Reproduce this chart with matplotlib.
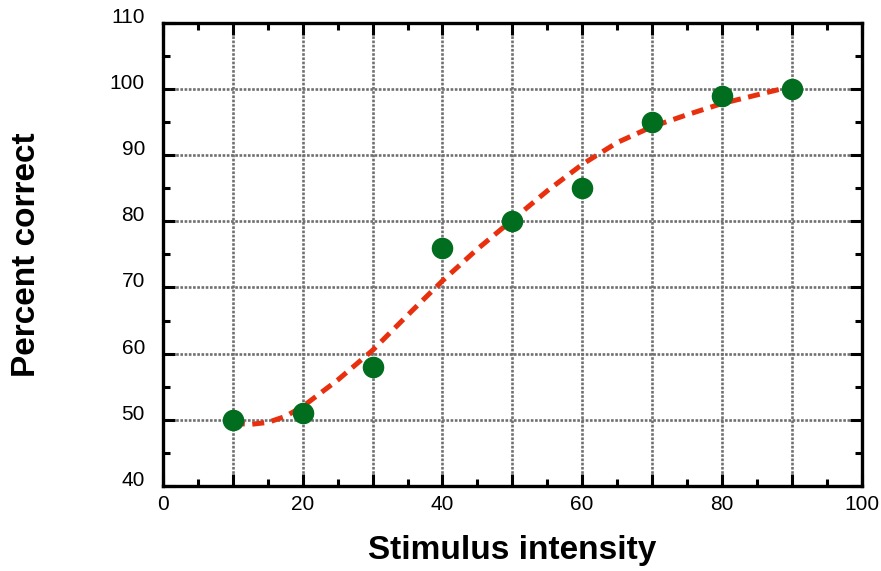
import numpy as np
import matplotlib.pyplot as plt
from matplotlib.ticker import MultipleLocator

# measured data points
stim = [10, 20, 30, 40, 50, 60, 70, 80, 90]
pct = [50, 51, 58, 76, 80, 85, 95, 99, 100]

# fitted curve
fit_x = [10, 12.5, 15, 17.5, 20, 25, 30, 35, 40, 45, 50, 55, 60, 65, 70, 75, 80, 85, 90]
fit_y = [49.5, 49.3, 49.6, 50.5, 52.0, 56.0, 60.5, 65.8, 71.0, 75.8, 80.2, 84.6,
         88.6, 91.9, 94.3, 96.1, 97.8, 99.1, 100.4]

x_ticks = [0, 10, 20, 30, 40, 50, 60, 70, 80, 90, 100]
x_labels = ['0', '', '20', '', '40', '', '60', '', '80', '', '100']
y_ticks = [40, 50, 60, 70, 80, 90, 100, 110]
y_labels = ['40', '50', '60', '70', '80', '90', '100', '110']

plt.rcParams['font.family'] = ['Liberation Sans', 'DejaVu Sans']

fig = plt.figure(figsize=(8.81, 5.71), dpi=100)
ax = fig.add_axes([0.185, 0.149, 0.793, 0.811])

ax.plot(fit_x, fit_y, color='#e8300e', linewidth=3.6, linestyle=(0, (2.4, 1.5)),
        dash_capstyle='butt', zorder=3)
ax.plot(stim, pct, 'o', color='#006e1e', markersize=14.5, zorder=4)

ax.set_xlim(0, 100)
ax.set_ylim(40, 110)
ax.set_xticks(x_ticks, x_labels)
ax.set_yticks(y_ticks, y_labels)
ax.xaxis.set_minor_locator(MultipleLocator(5))
ax.yaxis.set_minor_locator(MultipleLocator(5))

# grid lines every 10
ax.grid(True, which='major', color='#707070', linestyle=(0, (1, 0.6)), linewidth=1.9)
ax.set_axisbelow(True)

ax.tick_params(which='both', direction='in', top=True, right=True, width=2.2)
ax.tick_params(which='major', length=8.5, labelsize=15)
ax.tick_params(which='minor', length=5)
ax.tick_params(axis='y', pad=13)
ax.tick_params(axis='x', pad=6.5)
for lbl in ax.get_yticklabels():
    lbl.set_verticalalignment('baseline')

for s in ax.spines.values():
    s.set_linewidth(2.4)

ax.set_xlabel('Stimulus intensity', fontsize=24, fontweight='bold', va='center')
ax.set_ylabel('Percent correct', fontsize=24, fontweight='bold', va='center')
ax.xaxis.set_label_coords(0.5, -0.14)
ax.yaxis.set_label_coords(-0.195, 0.5)

fig.savefig('out.png', dpi=100)
